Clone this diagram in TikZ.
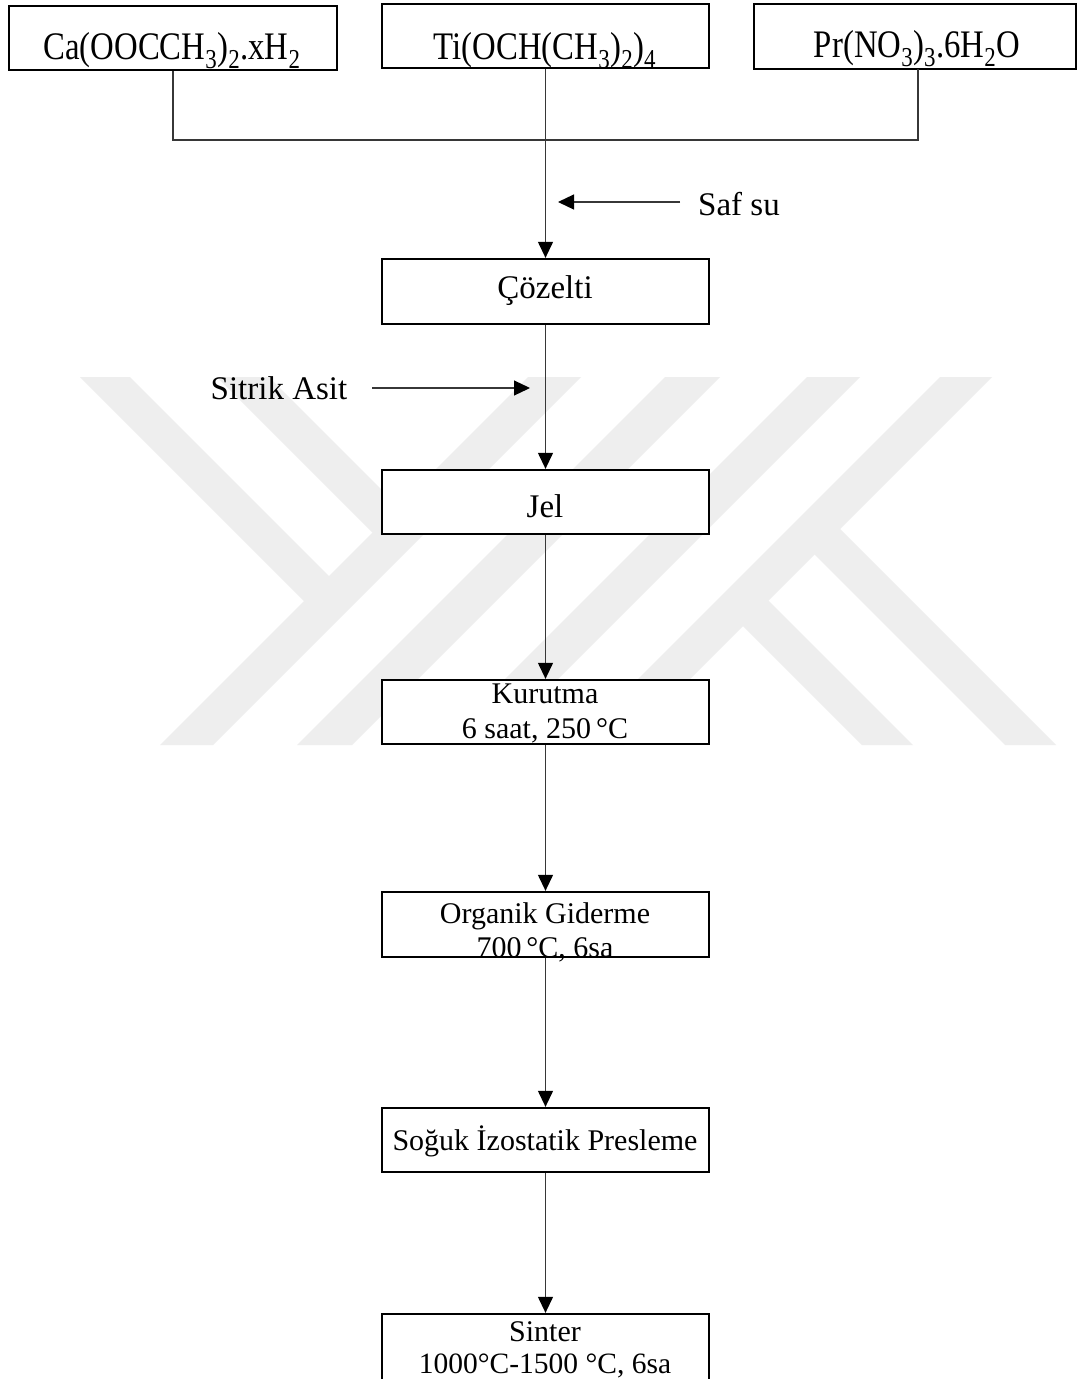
\documentclass[tikz,border=0pt]{standalone}
\usepackage{fontspec}
\setmainfont{Liberation Serif}
\newfontfamily\tallserif{Liberation Serif}[FakeStretch=0.84]
\usetikzlibrary{arrows.meta}

\definecolor{wmgray}{RGB}{238,238,238}
\definecolor{linegray}{RGB}{55,55,55}

\newcommand\toprowfont{\tallserif\fontsize{39}{44}\selectfont}
\newcommand\bigboxfont{\fontsize{33}{38}\selectfont}
\newcommand\smallboxfont{\fontsize{30}{35}\selectfont}

\begin{document}
\begin{tikzpicture}[x=1pt,y=-1pt,
  box/.style={draw=black, line width=2.3pt, fill=white, inner sep=0pt,
              minimum width=327pt, minimum height=64pt},
  txt/.style={inner sep=0pt, anchor=base, text=black},
  conn/.style={draw=linegray, line width=1.2pt},
  arr/.style={conn, -{Triangle[length=16pt,width=15pt,color=black]}}]

\useasboundingbox (0,0) rectangle (1077,1379);
\fill[white] (0,0) rectangle (1077,1379);

% background emblem: parallel diagonal bands
\begin{scope}
  \clip (0,377) rectangle (1077,745);
  \fill[wmgray] (80,377) -- (130,377) -- (341.5,588.5) -- (316.5,613.5) -- cycle;
  \fill[wmgray] (217,377) -- (269,377) -- (411,519) -- (385,545) -- cycle;
  \fill[wmgray] (528,377) -- (581,377) -- (213,745) -- (160,745) -- cycle;
  \fill[wmgray] (665,377) -- (720,377) -- (352,745) -- (297,745) -- cycle;
  \fill[wmgray] (807,377) -- (860,377) -- (492,745) -- (439,745) -- cycle;
  \fill[wmgray] (940,377) -- (992,377) -- (624,745) -- (572,745) -- cycle;
  \fill[wmgray] (730,613) -- (755.5,587.5) -- (913,745) -- (862,745) -- cycle;
  \fill[wmgray] (801.5,541.5) -- (827,516) -- (1056,745) -- (1005,745) -- cycle;
\end{scope}

% boxes
\node[box, minimum width=328pt] (b1) at (173,38) {};
\node[box] (b2) at (545.5,36) {};
\node[box, minimum width=322pt, minimum height=65pt] (b3) at (915,36.5) {};
\node[box, minimum height=65pt] (coz) at (545.5,291.5) {};
\node[box] (jel) at (545.5,502) {};
\node[box] (kur) at (545.5,712) {};
\node[box, minimum height=65pt] (org) at (545.5,924.5) {};
\node[box] (sog) at (545.5,1140) {};
\node[box, minimum height=70pt] (sin) at (545.5,1349) {};

% texts
\node[txt] (t1) at (172,59) {\toprowfont Ca(OOCCH\textsubscript{3})\textsubscript{2}.xH\textsubscript{2}};
\node[txt] (t2) at (545,59) {\toprowfont Ti(OCH(CH\textsubscript{3})\textsubscript{2})\textsubscript{4}};
\node[txt] (t3) at (917,57) {\toprowfont Pr(NO\textsubscript{3})\textsubscript{3}.6H\textsubscript{2}O};
\node[txt] (saf) at (739,215) {\bigboxfont Saf su};
\node[txt] (sit) at (279,399) {\bigboxfont Sitrik Asit};
\node[txt] (tcoz) at (545,298) {\bigboxfont Çözelti};
\node[txt] (tjel) at (545,517) {\bigboxfont Jel};
\node[txt] (tkur1) at (545,703) {\smallboxfont Kurutma};
\node[txt] (tkur2) at (545,738) {\smallboxfont 6 saat, 250\,°C};
\node[txt] (torg1) at (545,923) {\smallboxfont Organik Giderme};
\node[txt] (torg2) at (545,957) {\smallboxfont 700\,°C, 6sa};
\node[txt] (tsog) at (545,1150) {\smallboxfont Soğuk İzostatik Presleme};
\node[txt] (tsin1) at (545,1341) {\smallboxfont Sinter};
\node[txt] (tsin2) at (545,1373) {\fontsize{29.5}{35}\selectfont 1000°C-1500 °C, 6sa};

% junction of the three precursors
\coordinate (jn) at (545.5,140);
\coordinate (b3drop) at (918,69);
\draw[conn] (b1.south) -- (b1.south |- jn) -- (b3drop |- jn) -- (b3drop);
\draw[arr] (b2.south) -- (coz.north);

% added water and citric acid
\coordinate (safa) at (680,202);
\coordinate (safb) at (558,202);
\draw[arr] (safa) -- (safb);
\coordinate (sita) at (372,388);
\coordinate (sitb) at (530,388);
\draw[arr] (sita) -- (sitb);

% process chain
\draw[arr] (coz.south) -- (jel.north);
\draw[arr] (jel.south) -- (kur.north);
\draw[arr] (kur.south) -- (org.north);
\draw[arr] (org.south) -- (sog.north);
\draw[arr] (sog.south) -- (sin.north);
\end{tikzpicture}
\end{document}
